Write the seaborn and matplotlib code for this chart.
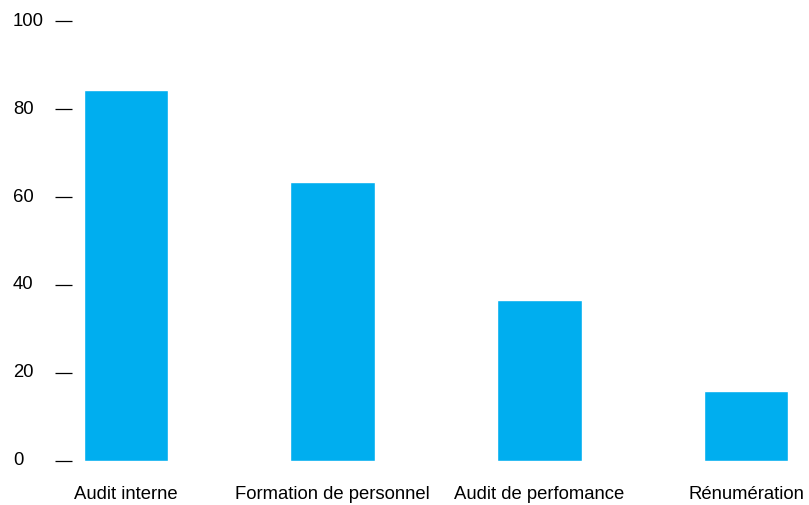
import matplotlib
matplotlib.use("Agg")
import matplotlib.pyplot as plt
import matplotlib.transforms as mtransforms
import seaborn as sns
import pandas as pd

categories = ["Audit interne", "Formation de personnel", "Audit de perfomance", "Rénumération"]
values = [84.3, 63.4, 36.6, 15.9]
yticks = [0, 20, 40, 60, 80, 100]

sns.set_theme(style="white")
plt.rcParams['font.family'] = ['Liberation Sans', 'DejaVu Sans']

W, H = 809, 506
fig = plt.figure(figsize=(W/100, H/100), dpi=100)
left, right, top, bottom = 72, 800, 22, 462
ax = fig.add_axes([left/W, 1-bottom/H, (right-left)/W, (bottom-top)/H])

df = pd.DataFrame({"cat": categories, "val": values})
sns.barplot(data=df, x="cat", y="val", color="#00AEEF", saturation=1, width=0.41, ax=ax)

sp = 206.7
ax.set_xlim((left-126)/sp, (right-126)/sp)
ax.set_ylim(0, 100)
ax.set_yticks(yticks)
ax.set_yticklabels([str(t) for t in yticks])
for s in ax.spines.values():
    s.set_visible(False)
ax.set_xlabel("")
ax.set_ylabel("")
ax.tick_params(axis='y', left=True, direction='out', length=12.2, width=0.9, color='black',
               pad=30.2, labelsize=13.3, labelcolor='black')
ax.tick_params(axis='x', bottom=False, length=0, pad=17, labelsize=13.3, labelcolor='black')
for lab in ax.get_yticklabels():
    lab.set_horizontalalignment('left')
    lab.set_transform(lab.get_transform() + mtransforms.ScaledTranslation(0, 3/100, fig.dpi_scale_trans))
ax.grid(False)
fig.savefig("out.png", dpi=100, facecolor="white")
